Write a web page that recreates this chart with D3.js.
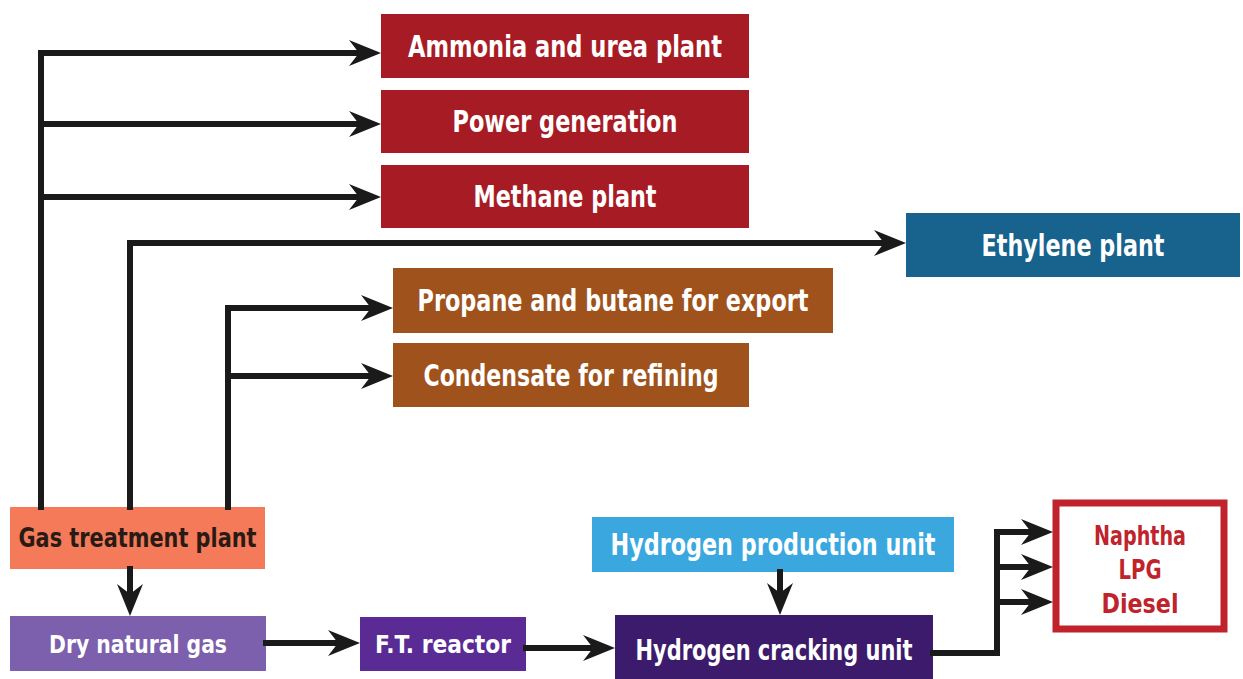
<!DOCTYPE html>
<html>
<head>
<meta charset="utf-8">
<script src="https://cdn.jsdelivr.net/npm/d3@7"></script>
<style>
  body { margin: 0; background: #fff; }
  text { font-family: "Liberation Sans Narrow", "DejaVu Sans Condensed", "Roboto Condensed", sans-serif; font-weight: bold; font-stretch: condensed; }
</style>
</head>
<body>
<script>
// node labels (text of each box)
var labels = [
  "Ammonia and urea plant",
  "Power generation",
  "Methane plant",
  "Ethylene plant",
  "Propane and butane for export",
  "Condensate for refining",
  "Gas treatment plant",
  "Dry natural gas",
  "F.T. reactor",
  "Hydrogen production unit",
  "Hydrogen cracking unit"
];
var productLines = ["Naphtha", "LPG", "Diesel"];

// layout of boxes: x, y, w, h, fill, text colour, font size, text width
var boxLayout = [
  [381, 14, 368, 64, "#a71c24", "#fff", 30, 314],
  [381, 90, 368, 63, "#a71c24", "#fff", 30, 225],
  [381, 165, 368, 63, "#a71c24", "#fff", 30, 183],
  [906, 213, 334, 64, "#17638d", "#fff", 30, 183],
  [393, 268, 440, 65, "#9f521c", "#fff", 30, 391],
  [393, 343, 356, 64, "#9f521c", "#fff", 30, 295],
  [10, 507, 255, 62, "#f47a5a", "#2a1a14", 26, 238],
  [10, 616, 256, 55, "#7c60ad", "#fff", 25, 178],
  [360, 617, 166, 54, "#5a2b95", "#fff", 25, 136],
  [592, 517, 362, 55, "#3aa8df", "#fff", 30, 325],
  [615, 615, 318, 70, "#3c1a6c", "#fff", 28, 277]
];
var productBox = [1056, 503, 168, 126];
var productTextW = [92, 43, 77];

// connectors: polyline points, arrow at last point
var connectors = [
  [[41, 507], [41, 53], [381, 53]],
  [[41, 124], [381, 124]],
  [[41, 197], [381, 197]],
  [[130, 507], [130, 243], [906, 243]],
  [[228, 507], [228, 308], [393, 308]],
  [[228, 376], [393, 376]],
  [[130, 569], [130, 616]],
  [[266, 643], [360, 643]],
  [[526, 648], [615, 648]],
  [[780, 572], [780, 615]],
  [[933, 653], [997, 653], [997, 532], [1053, 532]],
  [[997, 567], [1053, 567]],
  [[997, 602], [1053, 602]]
];

var width = 1243, height = 679;

var svg = d3.select("body")
  .append("svg")
  .attr("width", width)
  .attr("height", height);

var line = d3.line();

//boxes
var boxes = svg.selectAll(".box")
  .data(labels)
  .enter()
  .append("g")
  .attr("class", "box");

boxes.append("rect")
  .attr("x", function(d, i){ return boxLayout[i][0]; })
  .attr("y", function(d, i){ return boxLayout[i][1]; })
  .attr("width", function(d, i){ return boxLayout[i][2]; })
  .attr("height", function(d, i){ return boxLayout[i][3]; })
  .attr("fill", function(d, i){ return boxLayout[i][4]; });

boxes.append("text")
  .attr("x", function(d, i){ return boxLayout[i][0] + boxLayout[i][2] / 2; })
  .attr("y", function(d, i){ return boxLayout[i][1] + boxLayout[i][3] / 2 + boxLayout[i][6] * 0.36; })
  .attr("text-anchor", "middle")
  .attr("fill", function(d, i){ return boxLayout[i][5]; })
  .attr("font-size", function(d, i){ return boxLayout[i][6]; })
  .attr("textLength", function(d, i){ return boxLayout[i][7]; })
  .attr("lengthAdjust", "spacingAndGlyphs")
  .text(function(d){ return d; });

//product box with red outline
svg.append("rect")
  .attr("x", productBox[0])
  .attr("y", productBox[1])
  .attr("width", productBox[2])
  .attr("height", productBox[3])
  .attr("fill", "#fff")
  .attr("stroke", "#c0232b")
  .attr("stroke-width", 7);

svg.selectAll(".product")
  .data(productLines)
  .enter()
  .append("text")
  .attr("class", "product")
  .attr("x", productBox[0] + productBox[2] / 2)
  .attr("y", function(d, i){ return 545 + i * 34; })
  .attr("text-anchor", "middle")
  .attr("fill", "#c0232b")
  .attr("font-size", 27)
  .attr("textLength", function(d, i){ return productTextW[i]; })
  .attr("lengthAdjust", "spacingAndGlyphs")
  .text(function(d){ return d; });

//connector lines, stopped short of the arrow tip
var arrowLen = 32, arrowHalf = 13, notch = 10;

connectors.forEach(function(pts){
  var n = pts.length;
  var tip = pts[n - 1], prev = pts[n - 2];
  var dx = tip[0] - prev[0], dy = tip[1] - prev[1];
  var len = Math.sqrt(dx * dx + dy * dy);
  var ux = dx / len, uy = dy / len;
  var shortPts = pts.slice(0, n - 1).concat([[tip[0] - ux * (arrowLen - notch - 2), tip[1] - uy * (arrowLen - notch - 2)]]);

  svg.append("path")
    .attr("d", line(shortPts))
    .attr("fill", "none")
    .attr("stroke", "#1a1a1a")
    .attr("stroke-width", 6)
    .attr("stroke-linejoin", "miter")
    .attr("stroke-linecap", "square");

  var angle = Math.atan2(dy, dx) * 180 / Math.PI;
  svg.append("path")
    .attr("d", "M0,0 L" + (-arrowLen) + "," + (-arrowHalf) + " L" + (-arrowLen + notch) + ",0 L" + (-arrowLen) + "," + arrowHalf + " Z")
    .attr("transform", "translate(" + tip[0] + "," + tip[1] + ") rotate(" + angle + ")")
    .attr("fill", "#1a1a1a");
});
</script>
</body>
</html>
